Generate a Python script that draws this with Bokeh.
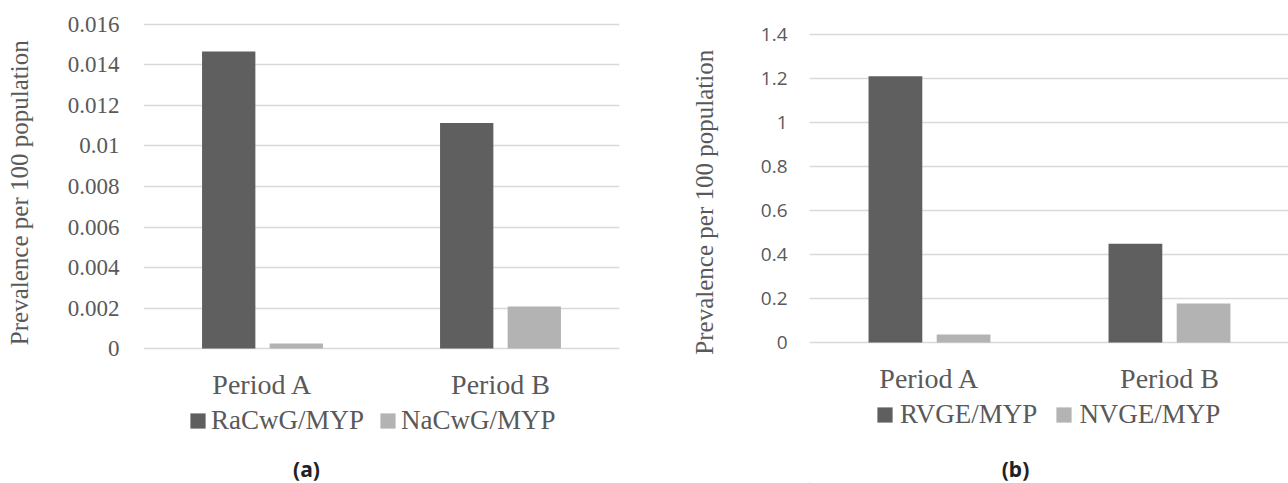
from bokeh.plotting import figure
from bokeh.layouts import row, column
from bokeh.models import Range1d, FixedTicker, Legend, LegendItem, Label
from bokeh.embed import file_html
from bokeh.resources import INLINE

# ---------------- data ----------------
categories = ["Period A", "Period B"]

a_series_names = ["RaCwG/MYP", "NaCwG/MYP"]
a_racwg = [0.01467, 0.01114]
a_nacwg = [0.00025, 0.00207]
a_yticks = [0, 0.002, 0.004, 0.006, 0.008, 0.01, 0.012, 0.014, 0.016]
a_ylabels = ["0", "0.002", "0.004", "0.006", "0.008", "0.01", "0.012", "0.014", "0.016"]

b_series_names = ["RVGE/MYP", "NVGE/MYP"]
b_rvge = [1.21, 0.449]
b_nvge = [0.036, 0.177]
b_yticks = [0, 0.2, 0.4, 0.6, 0.8, 1, 1.2, 1.4]
b_ylabels = ["0", "0.2", "0.4", "0.6", "0.8", "1", "1.2", "1.4"]

y_title = "Prevalence per 100 population"
panel_labels = ["(a)", "(b)"]

# ---------------- style ----------------
DARK = "#5f5f5f"
LIGHT = "#b3b3b3"
TXT = "#595959"
GRID = "#d9d9d9"
SERIF = "Liberation Serif"
SANS = "Open Sans"
NBSP = "\u00a0"

OFF = 0.142
BW = 0.224
H_TOTAL = 483
FRAME_TOP = 22
BOTTOM_BORDER = 51


def bars(p, s1, s2):
    xc = [i + 0.5 for i in range(len(categories))]
    x1 = [x - OFF for x in xc]
    x2 = [x + OFF for x in xc]
    r1 = p.vbar(x=x1, top=s1, bottom=0, width=BW, fill_color=DARK, line_color=None)
    r2 = p.vbar(x=x2, top=s2, bottom=0, width=BW, fill_color=LIGHT, line_color=None)
    return xc, r1, r2


def make_chart(width, height, border_left, border_right, x_end, y_lo, y_hi, s1, s2,
               yticks, ylabels, tick_font, tick_size, tick_standoff, cat_standoff,
               ytitle_standoff, ytitle_pad):
    p = figure(width=width, height=height, x_range=Range1d(0, x_end), y_range=Range1d(y_lo, y_hi),
               output_backend="svg", toolbar_location=None, title=None,
               min_border_left=border_left, min_border_right=border_right,
               min_border_top=FRAME_TOP, min_border_bottom=BOTTOM_BORDER)
    p.outline_line_color = None
    p.background_fill_color = "white"
    p.border_fill_color = "white"

    xc, _, _ = bars(p, s1, s2)

    # x axis (categories)
    p.xaxis.ticker = FixedTicker(ticks=xc)
    p.xaxis.major_label_overrides = {x: c for x, c in zip(xc, categories)}
    p.xaxis.axis_line_color = None
    p.xaxis.major_tick_line_color = None
    p.xaxis.minor_tick_line_color = None
    p.xaxis.major_tick_out = 0
    p.xaxis.major_label_standoff = cat_standoff
    p.xaxis.major_label_text_font = SERIF
    p.xaxis.major_label_text_font_size = "28px"
    p.xaxis.major_label_text_color = TXT

    # y axis
    p.yaxis.ticker = FixedTicker(ticks=yticks)
    p.yaxis.major_label_overrides = {t: l for t, l in zip(yticks, ylabels)}
    p.yaxis.axis_line_color = None
    p.yaxis.major_tick_line_color = None
    p.yaxis.minor_tick_line_color = None
    p.yaxis.major_tick_out = 0
    p.yaxis.major_label_standoff = tick_standoff
    p.yaxis.major_label_text_font = tick_font
    p.yaxis.major_label_text_font_size = tick_size
    p.yaxis.major_label_text_color = TXT
    p.yaxis.axis_label = y_title + NBSP * ytitle_pad
    p.yaxis.axis_label_standoff = ytitle_standoff
    p.yaxis.axis_label_text_font = SERIF
    p.yaxis.axis_label_text_font_style = "normal"
    p.yaxis.axis_label_text_font_size = "25px"
    p.yaxis.axis_label_text_color = TXT

    p.xgrid.visible = False
    p.ygrid.ticker = FixedTicker(ticks=yticks)
    p.ygrid.grid_line_color = GRID
    p.ygrid.grid_line_width = 1.6
    return p


def make_foot(width, height, border_left, border_right, x0, x1, s1, s2, names, legend_x, legend_y,
              spacing, standoff, panel_text, panel_x, panel_y):
    # footer strip: x range in page pixels of the chart frame above it
    f = figure(width=width, height=height, x_range=Range1d(x0, x1), y_range=Range1d(0, height),
               output_backend="svg", toolbar_location=None, title=None,
               x_axis_type=None, y_axis_type=None,
               min_border_left=border_left, min_border_right=border_right,
               min_border_top=0, min_border_bottom=0)
    f.outline_line_color = None
    f.xgrid.visible = False
    f.ygrid.visible = False
    f.background_fill_color = "white"
    f.border_fill_color = "white"
    # copies of the series (outside this strip's view), used only for the legend swatches
    _, k1, k2 = bars(f, s1, s2)
    legend = Legend(items=[LegendItem(label=names[0], renderers=[k1]),
                           LegendItem(label=names[1], renderers=[k2])],
                    orientation="horizontal", location=(legend_x, legend_y), padding=0, margin=0,
                    spacing=spacing, label_standoff=standoff,
                    glyph_width=19, glyph_height=19, label_height=19,
                    label_text_font=SERIF, label_text_font_size="27px", label_text_color=TXT,
                    border_line_color=None, background_fill_alpha=0)
    f.add_layout(legend)
    f.add_layout(Label(x=panel_x, y=panel_y, text=panel_text, text_align="center",
                       text_baseline="middle", text_font="Noto Sans", text_font_style="bold",
                       text_font_size="21px", text_color="#222222"))
    return f


# left: frame x 143..619, y 22..351 ; 0..0.016 at y 349..24
HA = 351 + BOTTOM_BORDER
pa_unit = 325 / 0.016
p1 = make_chart(660, HA, 143, 41, 2.0,
                -(351 - 349) / pa_unit, 0.016 + (24 - FRAME_TOP) / pa_unit,
                a_racwg, a_nacwg, a_yticks, a_ylabels,
                SERIF, "23px", 24, 18, 32, 2)
f1 = make_foot(660, H_TOTAL - HA, 143, 41, 143, 619, a_racwg, a_nacwg, a_series_names,
               45, 47.5, 14, 4, panel_labels[0], 306, 15)

# right: frame x 809..1288, y 22..345 ; 0..1.4 at y 343..34
HB = 345 + BOTTOM_BORDER
pb_unit = 309 / 1.4
p2 = make_chart(628, HB, 149, 0, 479 / 240,
                -(345 - 343) / pb_unit, 1.4 + (34 - FRAME_TOP) / pb_unit,
                b_rvge, b_nvge, b_yticks, b_ylabels,
                SANS, "19px", 22, 18, 40, 6)
f2 = make_foot(628, H_TOTAL - HB, 149, 0, 809, 1288, b_rvge, b_nvge, b_series_names,
               66, 53.5, 17, 6, panel_labels[1], 1015, 15)

layout = row(column(p1, f1), column(p2, f2))
open("out.html", "w").write(file_html(layout, INLINE))
